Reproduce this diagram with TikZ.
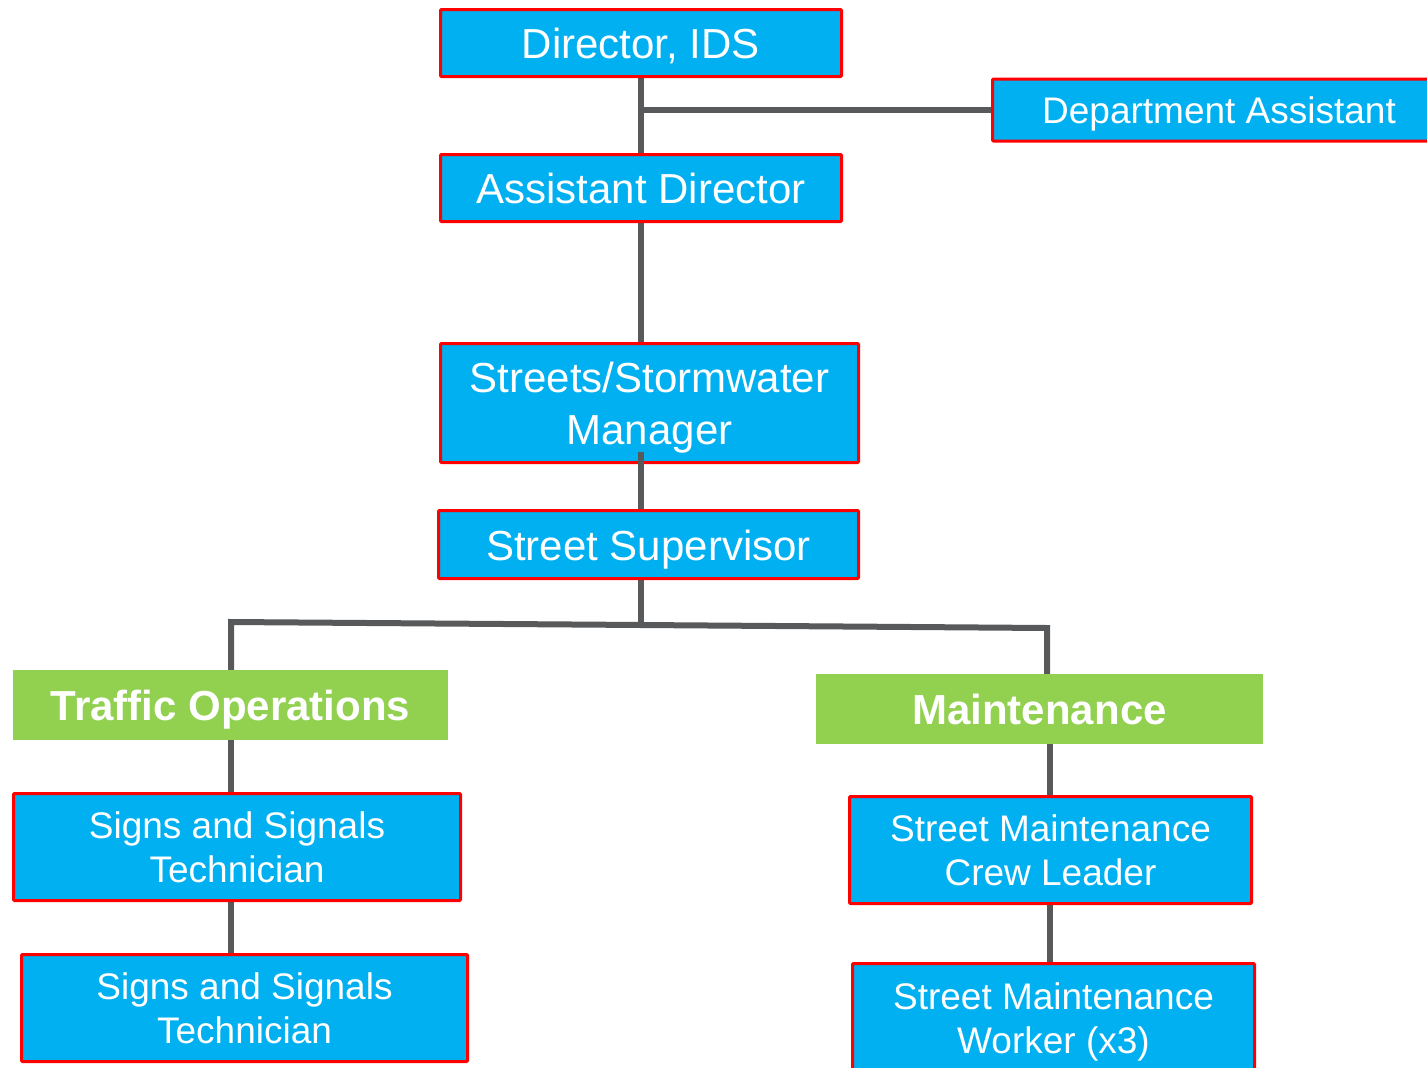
\documentclass[tikz,border=0pt]{standalone}
\usepackage{fontspec}
\setmainfont{Liberation Sans}
\usetikzlibrary{backgrounds}
\definecolor{boxblue}{HTML}{00B0F0}
\definecolor{boxgreen}{HTML}{92D050}
\definecolor{linkgray}{HTML}{58595B}
\definecolor{boxred}{HTML}{FF0000}
\tikzset{
  rolebox/.style={draw=boxred, line width=3pt, fill=boxblue, text=white,
    inner sep=0pt, align=center, rounded corners=1pt},
  groupbox/.style={fill=boxgreen, text=white, inner sep=0pt, align=center,
    font=\fontsize{42}{50}\selectfont\bfseries, text height=31pt, text depth=0pt},
  bigtxt/.style={font=\fontsize{42}{52}\selectfont},
  smalltxt/.style={font=\fontsize{37}{44}\selectfont},
  onebig/.style={text height=31pt, text depth=0pt},
  onesmall/.style={text height=27.4pt, text depth=0pt},
  link/.style={draw=linkgray, line width=6pt}
}
\begin{document}
\begin{tikzpicture}[x=1pt,y=-1pt]
\useasboundingbox (0,0) rectangle (1427,1068);

\node[rolebox,bigtxt,onebig,minimum width=401pt,minimum height=67pt] (dir) at (641,43) {Director, IDS};
\node[rolebox,smalltxt,onesmall,minimum width=453pt,minimum height=62pt] (da) at (1219,110) {Department Assistant};
\node[rolebox,bigtxt,onebig,minimum width=401pt,minimum height=67pt] (ad) at (641,188) {Assistant Director};
\node[rolebox,bigtxt,minimum width=418pt,minimum height=119pt] (mgr) at (649.5,403) {\rule{0pt}{40pt}Streets/Stormwater\\Manager};
\node[rolebox,bigtxt,onebig,minimum width=420pt,minimum height=68pt] (sup) at (648.5,544.5) {Street Supervisor};
\node[groupbox,minimum width=435pt,minimum height=70pt] (traffic) at (230.5,705) {Traffic Operations};
\node[groupbox,minimum width=447pt,minimum height=70pt] (maint) at (1039.5,709) {Maintenance};
\node[rolebox,smalltxt,minimum width=447pt,minimum height=107pt] (sst1) at (237,847) {Signs and Signals\\Technician};
\node[rolebox,smalltxt,minimum width=446pt,minimum height=107pt] (sst2) at (244.5,1008) {Signs and Signals\\Technician};
\node[rolebox,smalltxt,minimum width=402pt,minimum height=107pt] (smcl) at (1050.5,850) {Street Maintenance\\Crew Leader};
\node[rolebox,smalltxt,minimum width=402pt,minimum height=117pt] (smw) at (1053.5,1022) {Street Maintenance\\Worker (x3)};

\coordinate (mgrtap) at (641,452);
\coordinate (suptap) at (641,625);
\coordinate (lcorner) at (231,622);
\coordinate (rcorner) at (1047,628);
\coordinate (mline) at (1050,744);

\begin{pgfonlayer}{background}
\draw[link] (dir.south) -- (ad.north);
\draw[link] (dir.south |- da.west) -- (da.west);
\draw[link] (ad.south) -- (ad.south |- mgr.north);
\draw[link] (sup.south -| mgrtap) -- (suptap);
\draw[link, line join=miter] (traffic.north -| lcorner) -- (lcorner) -- (suptap) -- (rcorner) -- (maint.north -| rcorner);
\draw[link] (traffic.south -| lcorner) -- (sst1.north -| lcorner);
\draw[link] (sst1.south -| lcorner) -- (sst2.north -| lcorner);
\draw[link] (maint.south -| mline) -- (smcl.north -| mline);
\draw[link] (smcl.south -| mline) -- (smw.north -| mline);
\end{pgfonlayer}
\draw[link] (mgrtap) -- (mgrtap |- sup.north);
\end{tikzpicture}
\end{document}
